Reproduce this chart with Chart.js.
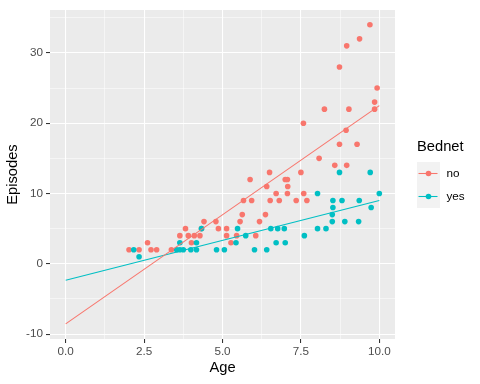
<!DOCTYPE html>
<html><head><meta charset="utf-8">
<script src="https://cdn.jsdelivr.net/npm/chart.js@4"></script>
<style>html,body{margin:0;padding:0;background:#fff}#wrap{width:480px;height:384px}</style>
</head><body><div id="wrap"><canvas id="c" width="480" height="384"></canvas></div>
<script>
// Bednet = "no"
const ageNo = [2.02,2.34,2.61,2.72,2.9,3.37,3.64,3.82,3.91,4.01,4.1,4.28,4.33,4.41,4.79,4.87,5.13,5.13,5.27,5.45,5.56,5.63,5.67,5.88,5.93,6.06,6.18,6.37,6.41,6.5,6.52,6.71,6.81,7.0,7.07,7.07,7.08,7.35,7.5,7.58,7.59,7.69,8.08,8.25,8.58,8.73,8.73,8.94,8.96,8.96,9.03,9.29,9.37,9.7,9.85,9.85,9.93];
const episodesNo = [2,2,3,2,2,2,4,5,4,3,4,4,5,6,6,5,5,4,3,4,6,7,9,12,9,4,6,7,11,13,9,10,9,12,12,10,11,9,13,20,10,9,15,22,14,17,28,19,14,31,22,17,32,34,23,22,25];
// Bednet = "yes"
const ageYes = [2.17,2.34,3.54,3.64,3.64,3.75,3.99,4.17,4.17,4.33,4.81,5.06,5.43,5.48,5.74,6.02,6.41,6.54,6.71,6.76,6.97,7.0,7.61,8.03,8.03,8.3,8.5,8.5,8.52,8.52,8.73,8.81,8.9,9.34,9.36,9.71,9.74,10.0];
const episodesYes = [2,1,2,3,2,2,2,2,3,5,2,2,3,5,4,2,2,5,3,5,5,3,4,5,10,5,6,7,8,9,13,9,6,6,9,13,8,10];
// fitted lines
const fitX = [0, 10];
const fitNo = [-8.55, 22.5];
const fitYes = [-2.35, 9.0];
const groups = ['no', 'yes'];
const colors = ['#F8766D', '#00BFC4'];
const xTicks = [0, 2.5, 5, 7.5, 10];
const xMinor = [1.25, 3.75, 6.25, 8.75];
const yTicks = [-10, 0, 10, 20, 30];
const yMinor = [-5, 5, 15, 25, 35];

const pts = (xs, ys) => xs.map((x, i) => ({x: x, y: ys[i]}));
const isMaj = (arr, v) => arr.some(t => Math.abs(t - v) < 1e-9);

const panelBg = {
  id: 'panelBg',
  beforeDraw(chart) {
    const a = chart.chartArea, ctx = chart.ctx;
    ctx.save(); ctx.fillStyle = '#EBEBEB';
    ctx.fillRect(a.left, a.top, a.right - a.left, a.bottom - a.top);
    ctx.restore();
  }
};
const ggLegend = {
  id: 'ggLegend',
  afterDraw(chart) {
    const ctx = chart.ctx;
    ctx.save();
    ctx.font = '14.7px "Liberation Sans", Arial, sans-serif';
    ctx.fillStyle = '#000'; ctx.textBaseline = 'middle'; ctx.textAlign = 'left';
    ctx.fillText('Bednet', 417, 147);
    ctx.fillStyle = '#F2F2F2';
    ctx.fillRect(417, 162, 23, 46);
    groups.forEach((g, i) => {
      const cy = 173.5 + i * 23;
      ctx.strokeStyle = colors[i]; ctx.lineWidth = 1.07;
      ctx.beginPath(); ctx.moveTo(418.5, cy); ctx.lineTo(437.5, cy); ctx.stroke();
      ctx.fillStyle = colors[i];
      ctx.beginPath(); ctx.arc(428.5, cy, 2.8, 0, Math.PI * 2); ctx.fill();
      ctx.fillStyle = '#000';
      ctx.font = '11.7px "Liberation Sans", Arial, sans-serif';
      ctx.fillText(g, 446.5, cy);
    });
    ctx.restore();
  }
};

const tickFont = {family: '"Liberation Sans", Arial, sans-serif', size: 11.7};
const titleFont = {family: '"Liberation Sans", Arial, sans-serif', size: 14.7};

new Chart(document.getElementById('c'), {
  type: 'scatter',
  data: {
    datasets: [
      {label: 'no fit', data: pts(fitX, fitNo), showLine: true, borderColor: colors[0], borderWidth: 1.07, pointRadius: 0, order: 0},
      {label: 'yes fit', data: pts(fitX, fitYes), showLine: true, borderColor: colors[1], borderWidth: 1.07, pointRadius: 0, order: 0},
      {label: groups[0], data: pts(ageNo, episodesNo), backgroundColor: colors[0], borderWidth: 0, pointRadius: 2.8, order: 2},
      {label: groups[1], data: pts(ageYes, episodesYes), backgroundColor: colors[1], borderWidth: 0, pointRadius: 2.8, order: 1}
    ]
  },
  options: {
    responsive: false, animation: false, devicePixelRatio: 1, events: [],
    layout: {padding: {left: 0, right: 85, top: 7, bottom: 0}},
    plugins: {legend: {display: false}, tooltip: {enabled: false}},
    scales: {
      x: {
        type: 'linear', min: -0.5, max: 10.5,
        afterFit(s) { s.height = 45; },
        afterBuildTicks(s) { s.ticks = [...xTicks, ...xMinor].sort((a, b) => a - b).map(v => ({value: v})); },
        border: {display: false},
        grid: {
          color: '#FFFFFF',
          lineWidth: c => isMaj(xTicks, c.tick.value) ? 1.07 : 0.53,
          tickColor: c => isMaj(xTicks, c.tick.value) ? '#333333' : 'rgba(0,0,0,0)',
          tickWidth: 1.07, tickLength: 4, drawTicks: true
        },
        ticks: {autoSkip: false, maxRotation: 0, color: '#4D4D4D', font: tickFont, padding: 2,
          callback: v => isMaj(xTicks, v) ? v.toFixed(1) : ''},
        title: {display: true, text: 'Age', color: '#000', font: titleFont, padding: {top: 0, bottom: 7}}
      },
      y: {
        type: 'linear', min: -10.7, max: 36.1,
        afterFit(s) { s.width = 50; },
        afterBuildTicks(s) { s.ticks = [...yTicks, ...yMinor].sort((a, b) => a - b).map(v => ({value: v})); },
        border: {display: false},
        grid: {
          color: '#FFFFFF',
          lineWidth: c => isMaj(yTicks, c.tick.value) ? 1.07 : 0.53,
          tickColor: c => isMaj(yTicks, c.tick.value) ? '#333333' : 'rgba(0,0,0,0)',
          tickWidth: 1.07, tickLength: 4, drawTicks: true
        },
        ticks: {autoSkip: false, color: '#4D4D4D', font: tickFont, padding: 3,
          callback: v => isMaj(yTicks, v) ? String(v) : ''},
        title: {display: true, text: 'Episodes', color: '#000', font: titleFont, padding: {top: 4, bottom: 0}}
      }
    }
  },
  plugins: [panelBg, ggLegend]
});
</script></body></html>
